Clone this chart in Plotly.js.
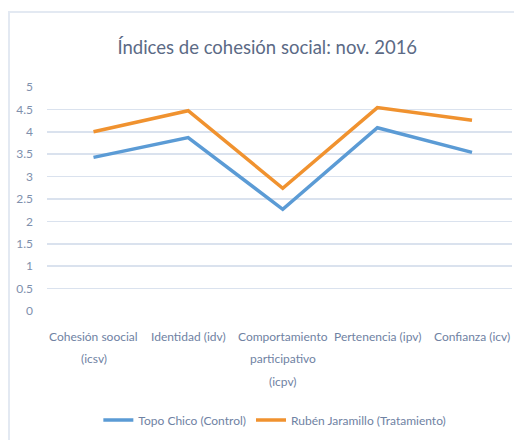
<!DOCTYPE html>
<html>
<head>
<meta charset="utf-8">
<script src="https://cdn.plot.ly/plotly-3.0.1.min.js"></script>
<style>
html,body{margin:0;padding:0;background:#fff;}
#wrap{position:relative;width:514px;height:440px;overflow:hidden;}
#frame{position:absolute;left:8px;top:11px;width:520px;height:440px;border-left:2px solid #e3e9f2;border-top:2px solid #e3e9f2;box-sizing:border-box;pointer-events:none;z-index:5;}
#chart{position:absolute;left:0;top:0;width:514px;height:440px;}
</style>
</head>
<body>
<div id="wrap"><div id="chart"></div><div id="frame"></div></div>
<script>
const categories = [
  "Cohesión soocial<br>(icsv)",
  "Identidad (idv)",
  "Comportamiento<br>participativo<br>(icpv)",
  "Pertenencia (ipv)",
  "Confianza (icv)"
];
const seriesNames = ["Topo Chico (Control)", "Rubén Jaramillo (Tratamiento)"];
const topoChico = [3.43, 3.87, 2.27, 4.09, 3.54];
const rubenJaramillo = [4.0, 4.47, 2.74, 4.54, 4.26];
const yTickVals = [0, 0.5, 1, 1.5, 2, 2.5, 3, 3.5, 4, 4.5, 5];
const yTickText = ["0", "0.5", "1", "1.5", "2", "2.5", "3", "3.5", "4", "4.5", "5"];
const titleText = "Índices de cohesión social: nov. 2016";

const FONT = "Lato, 'DejaVu Sans Condensed', sans-serif";
const labelColor = "#6f82a3";

const traces = [
  {x: categories, y: topoChico, name: seriesNames[0], type: "scatter", mode: "lines",
   line: {color: "#5b9bd5", width: 3.5}},
  {x: categories, y: rubenJaramillo, name: seriesNames[1], type: "scatter", mode: "lines",
   line: {color: "#f0922f", width: 3.5}}
];

const annotations = [];
categories.forEach(function(cat){
  cat.split("<br>").forEach(function(line, i){
    annotations.push({
      x: cat, xref: "x", y: 0, yref: "paper",
      text: line, showarrow: false, xanchor: "center", yanchor: "middle",
      yshift: -25 - 22.5 * i,
      font: {family: FONT, size: 12, color: labelColor}
    });
  });
});

const layout = {
  width: 514, height: 440,
  margin: {l: 47, r: 2, t: 87, b: 129},
  paper_bgcolor: "#ffffff", plot_bgcolor: "#ffffff",
  title: {text: titleText, x: 0.52, xanchor: "center", y: 0.893, yanchor: "middle",
          font: {family: FONT, size: 18.5, color: "#5b6a85"}},
  xaxis: {type: "category", showgrid: false, showticklabels: false, zeroline: false,
          showline: false, ticks: "", fixedrange: true},
  yaxis: {range: [0, 5], tickvals: yTickVals, ticktext: yTickText, showgrid: true,
          gridcolor: "#dae2ee", gridwidth: 1.5, zeroline: false, showline: false, ticks: "",
          ticklabelstandoff: 13,
          tickfont: {family: FONT, size: 12, color: "#8090ad"}, fixedrange: true},
  showlegend: true,
  legend: {orientation: "h", x: 0.49, xanchor: "center", y: -0.487, yanchor: "middle",
           font: {family: FONT, size: 12, color: labelColor}, itemwidth: 30,
           tracegroupgap: 0, bgcolor: "rgba(0,0,0,0)"},
  annotations: annotations
};

Plotly.newPlot("chart", traces, layout, {displayModeBar: false, staticPlot: true});
</script>
</body>
</html>
